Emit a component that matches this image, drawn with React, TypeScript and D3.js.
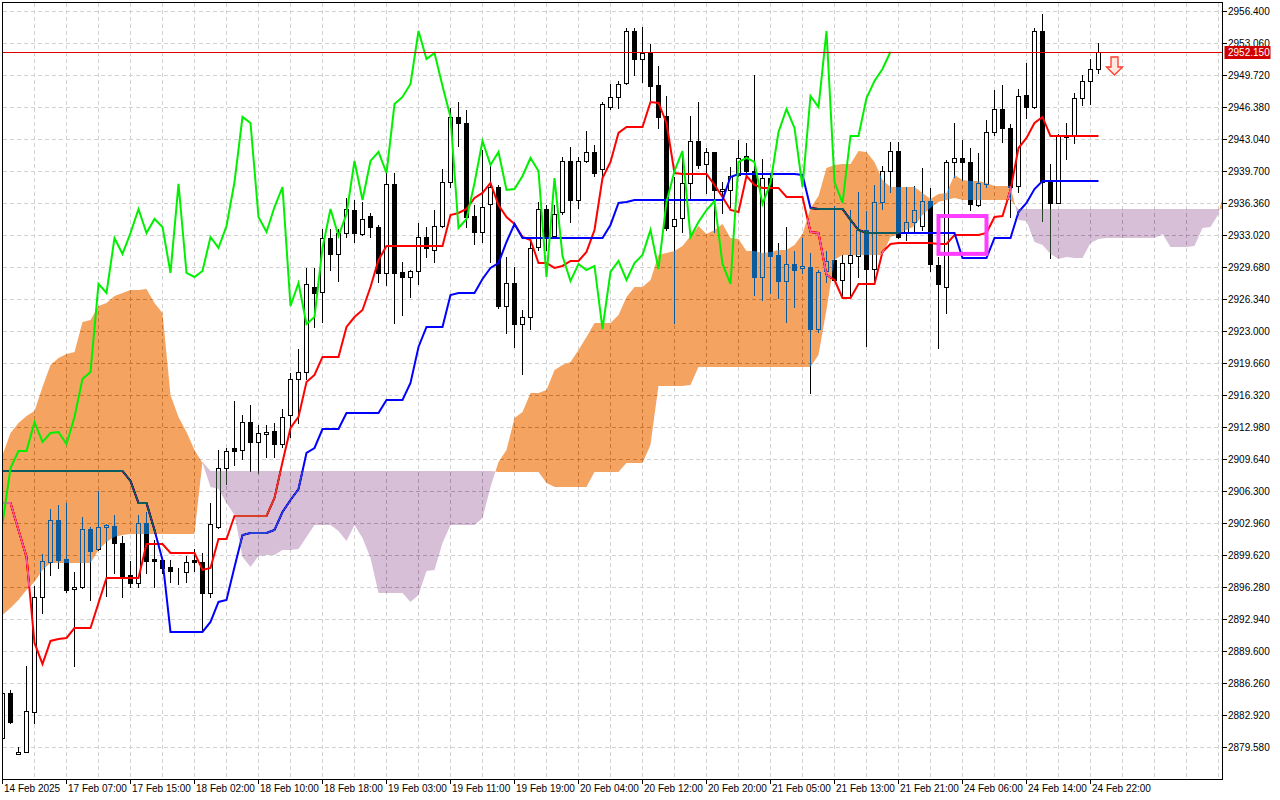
import { useEffect, useRef } from 'react'
import * as d3 from 'd3'

// XAUUSD H1, Ichimoku (9, 26, 52)
const opens = [
  2880.52, 2885.22, 2878.85, 2879.06, 2883.24, 2895.24, 2898.89, 2903.28, 2899.20, 2896.07,
  2896.28, 2902.33, 2900.25, 2902.54, 2902.65, 2900.87, 2897.53, 2896.70, 2902.96, 2899.20,
  2899.10, 2898.37, 2898.05, 2897.85, 2899.10, 2898.89, 2895.66, 2902.54, 2908.70, 2910.79,
  2910.58, 2913.50, 2911.42, 2912.25, 2912.56, 2911.21, 2914.23, 2917.99, 2918.72, 2927.59,
  2927.07, 2932.71, 2931.04, 2933.23, 2935.63, 2933.13, 2935.00, 2933.86, 2929.06, 2938.35,
  2929.16, 2928.64, 2929.26, 2932.81, 2931.46, 2933.96, 2938.55, 2945.34, 2944.71, 2935.00,
  2933.33, 2936.26, 2938.03, 2925.61, 2928.01, 2923.73, 2924.46, 2931.77, 2935.73, 2932.92,
  2935.42, 2940.75, 2936.68, 2940.75, 2941.69, 2939.91, 2946.38, 2947.43, 2948.89, 2954.31,
  2951.39, 2952.02, 2948.68, 2945.44, 2933.96, 2934.80, 2938.45, 2942.83, 2940.43, 2941.69,
  2937.61, 2937.72, 2939.28, 2941.27, 2939.70, 2928.64, 2938.97, 2930.93, 2928.22, 2930.00,
  2929.58, 2929.68, 2923.21, 2929.26, 2930.41, 2928.33, 2930.10, 2930.83, 2933.54, 2929.47,
  2936.47, 2939.70, 2941.79, 2933.23, 2934.38, 2933.96, 2936.57, 2929.89, 2927.59, 2940.64,
  2941.06, 2940.64, 2936.15, 2938.35, 2943.77, 2946.17, 2944.19, 2938.14, 2947.63, 2946.38,
  2954.31, 2938.55, 2936.36, 2943.25, 2943.36, 2947.32, 2949.10, 2950.35,
]
const highs = [
  2885.53, 2885.53, 2879.58, 2888.04, 2896.39, 2899.73, 2904.42, 2904.84, 2905.05, 2897.85,
  2903.59, 2902.54, 2906.30, 2902.86, 2903.80, 2901.60, 2899.00, 2903.80, 2904.11, 2901.19,
  2899.10, 2899.10, 2898.26, 2899.52, 2900.25, 2899.83, 2905.05, 2910.58, 2910.79, 2915.70,
  2914.23, 2915.28, 2913.19, 2913.19, 2913.40, 2914.86, 2918.62, 2921.12, 2929.58, 2929.58,
  2933.65, 2933.65, 2933.65, 2936.88, 2936.68, 2936.47, 2935.31, 2934.07, 2939.49, 2939.49,
  2930.20, 2929.37, 2934.27, 2933.86, 2935.63, 2939.91, 2946.28, 2946.90, 2946.07, 2936.15,
  2941.89, 2940.43, 2938.24, 2930.73, 2929.68, 2925.19, 2932.81, 2936.47, 2936.15, 2936.15,
  2941.16, 2942.21, 2941.16, 2943.88, 2942.41, 2946.90, 2948.78, 2949.09, 2954.63, 2954.63,
  2954.73, 2952.96, 2950.66, 2947.53, 2939.08, 2941.69, 2945.44, 2946.90, 2942.10, 2941.69,
  2938.55, 2940.12, 2942.94, 2942.62, 2949.72, 2940.95, 2939.49, 2932.19, 2933.86, 2931.35,
  2932.71, 2931.14, 2929.37, 2931.35, 2936.05, 2930.93, 2935.63, 2937.51, 2935.52, 2938.24,
  2940.22, 2942.73, 2942.73, 2938.03, 2938.14, 2940.02, 2937.93, 2930.73, 2940.85, 2944.71,
  2942.94, 2942.10, 2941.58, 2945.03, 2948.16, 2948.68, 2944.61, 2948.26, 2950.97, 2954.63,
  2956.09, 2940.43, 2943.56, 2944.71, 2947.84, 2949.72, 2951.39, 2953.06,
]
const lows = [
  2880.31, 2882.09, 2878.85, 2879.06, 2882.09, 2893.57, 2897.53, 2898.26, 2895.76, 2888.04,
  2896.18, 2894.93, 2900.14, 2895.34, 2897.74, 2895.24, 2896.28, 2896.28, 2897.74, 2896.28,
  2897.74, 2896.80, 2896.59, 2896.80, 2897.95, 2891.59, 2895.24, 2902.44, 2907.03, 2909.01,
  2909.64, 2908.39, 2908.18, 2909.85, 2909.85, 2910.89, 2911.94, 2913.40, 2917.99, 2923.42,
  2923.94, 2929.37, 2928.22, 2932.81, 2932.29, 2933.02, 2932.81, 2928.12, 2927.80, 2923.84,
  2924.67, 2926.55, 2927.91, 2930.73, 2930.20, 2933.86, 2938.03, 2942.31, 2933.86, 2932.08,
  2932.29, 2930.20, 2925.40, 2922.79, 2921.33, 2918.51, 2923.21, 2931.46, 2931.46, 2932.71,
  2935.21, 2934.38, 2935.84, 2940.64, 2939.18, 2939.08, 2946.17, 2946.28, 2948.78, 2949.72,
  2948.99, 2947.11, 2944.19, 2933.54, 2923.84, 2933.33, 2936.78, 2940.02, 2937.40, 2933.33,
  2935.31, 2935.94, 2939.18, 2939.49, 2926.76, 2926.24, 2926.97, 2926.45, 2923.94, 2925.51,
  2929.06, 2916.53, 2922.90, 2928.12, 2928.33, 2926.55, 2926.55, 2928.64, 2921.44, 2928.33,
  2935.73, 2937.51, 2932.71, 2932.50, 2933.23, 2933.54, 2929.26, 2921.23, 2924.88, 2939.08,
  2938.76, 2935.63, 2936.05, 2938.03, 2943.46, 2942.73, 2934.90, 2937.51, 2945.23, 2946.28,
  2934.48, 2930.62, 2936.36, 2940.95, 2942.62, 2946.59, 2946.69, 2949.93,
]
const closes = [
  2885.22, 2882.19, 2879.06, 2883.34, 2895.24, 2899.00, 2903.28, 2899.10, 2895.97, 2896.28,
  2902.33, 2900.04, 2902.54, 2902.75, 2900.87, 2897.43, 2896.70, 2902.96, 2899.00, 2899.00,
  2898.26, 2897.95, 2898.05, 2898.89, 2898.89, 2895.66, 2902.86, 2908.70, 2910.48, 2910.48,
  2913.50, 2911.42, 2912.35, 2912.46, 2911.21, 2914.02, 2917.99, 2918.72, 2927.91, 2926.97,
  2932.71, 2931.04, 2933.23, 2935.73, 2933.23, 2934.69, 2933.86, 2929.06, 2938.35, 2929.06,
  2928.64, 2929.26, 2932.81, 2931.67, 2933.96, 2938.55, 2945.34, 2944.71, 2934.90, 2933.33,
  2935.94, 2938.03, 2925.61, 2928.01, 2923.73, 2924.46, 2931.67, 2935.73, 2932.92, 2935.21,
  2940.75, 2936.68, 2940.75, 2941.69, 2939.49, 2946.69, 2947.43, 2948.78, 2954.31, 2951.39,
  2952.02, 2948.57, 2945.34, 2933.75, 2934.69, 2938.45, 2942.83, 2940.33, 2941.69, 2937.72,
  2937.82, 2939.18, 2941.06, 2939.70, 2928.64, 2938.97, 2930.83, 2928.22, 2930.00, 2929.37,
  2929.79, 2923.21, 2929.16, 2930.31, 2928.33, 2930.10, 2930.93, 2933.54, 2929.47, 2936.47,
  2939.70, 2941.79, 2932.81, 2934.38, 2935.63, 2936.57, 2930.00, 2927.91, 2940.64, 2941.06,
  2940.64, 2936.26, 2938.45, 2943.77, 2946.17, 2944.19, 2938.03, 2947.53, 2946.38, 2954.31,
  2938.55, 2936.36, 2943.36, 2943.36, 2947.32, 2949.10, 2950.35, 2952.15,
]

const tenkan = [
  2905.05, 2905.05, 2902.23, 2899.41, 2890.44, 2888.24, 2890.65, 2890.85, 2890.96, 2892.00,
  2892.00, 2892.00, 2894.61, 2897.22, 2897.22, 2897.22, 2897.22, 2897.22, 2900.77, 2900.77,
  2900.77, 2899.83, 2899.83, 2899.83, 2899.83, 2898.06, 2898.26, 2901.29, 2901.29, 2903.69,
  2903.69, 2903.69, 2903.69, 2903.69, 2905.57, 2909.33, 2912.88, 2914.03, 2917.68, 2918.41,
  2920.29, 2920.29, 2920.29, 2923.42, 2924.46, 2925.19, 2927.59, 2930.41, 2931.87, 2931.87,
  2931.87, 2931.87, 2931.87, 2931.87, 2931.87, 2931.87, 2935.11, 2935.32, 2935.74, 2936.88,
  2937.41, 2938.45, 2936.15, 2934.90, 2934.17, 2932.81, 2932.50, 2930.10, 2930.10, 2929.58,
  2929.79, 2930.31, 2930.31, 2931.25, 2933.54, 2938.97, 2940.64, 2943.67, 2944.29, 2944.29,
  2944.29, 2946.90, 2946.80, 2944.71, 2939.49, 2939.39, 2939.39, 2939.39, 2939.39, 2938.24,
  2936.99, 2935.63, 2935.42, 2939.18, 2938.24, 2937.93, 2937.93, 2937.93, 2936.99, 2936.99,
  2936.99, 2933.33, 2933.23, 2928.85, 2928.32, 2926.45, 2926.45, 2927.91, 2927.91, 2927.91,
  2931.25, 2932.08, 2932.19, 2932.19, 2932.19, 2932.19, 2932.19, 2932.08, 2932.08, 2933.02,
  2933.02, 2933.02, 2933.02, 2933.23, 2934.90, 2935.00, 2937.72, 2942.10, 2943.15, 2944.71,
  2945.34, 2943.35, 2943.35, 2943.35, 2943.35, 2943.35, 2943.35, 2943.35,
]
const kijun = [
  2908.39, 2908.39, 2908.39, 2908.39, 2908.39, 2908.39, 2908.39, 2908.39, 2908.39, 2908.39,
  2908.39, 2908.39, 2908.39, 2908.39, 2908.39, 2908.39, 2907.35, 2905.05, 2905.05, 2902.23,
  2899.10, 2891.59, 2891.59, 2891.59, 2891.59, 2891.59, 2892.63, 2894.72, 2894.93, 2898.37,
  2901.71, 2901.92, 2901.92, 2901.92, 2902.23, 2904.11, 2905.36, 2906.51, 2910.27, 2910.79,
  2912.77, 2912.77, 2912.77, 2914.44, 2914.44, 2914.44, 2914.44, 2914.44, 2915.80, 2915.80,
  2915.80, 2917.57, 2921.33, 2923.42, 2923.42, 2923.42, 2926.76, 2926.97, 2926.97, 2926.97,
  2928.43, 2929.58, 2930.10, 2932.29, 2934.17, 2932.71, 2932.71, 2932.71, 2932.71, 2932.71,
  2932.71, 2932.71, 2932.71, 2932.71, 2932.71, 2932.71, 2934.07, 2936.36, 2936.47, 2936.68,
  2936.68, 2936.68, 2936.68, 2936.68, 2936.68, 2936.68, 2936.68, 2936.68, 2936.68, 2936.68,
  2936.68, 2939.08, 2939.39, 2939.39, 2939.39, 2939.39, 2939.39, 2939.39, 2939.39, 2939.39,
  2939.28, 2935.84, 2935.74, 2935.74, 2935.74, 2935.74, 2934.59, 2933.54, 2933.23, 2933.23,
  2933.23, 2933.23, 2933.23, 2933.23, 2933.23, 2933.23, 2933.23, 2933.23, 2933.23, 2933.23,
  2930.62, 2930.62, 2930.62, 2930.62, 2932.71, 2932.71, 2932.71, 2935.42, 2936.36, 2937.82,
  2938.66, 2938.66, 2938.66, 2938.66, 2938.66, 2938.66, 2938.66, 2938.66,
]
// senkou spans, already shifted 26 bars forward (so they run past the last candle)
const spanA = [
  2910.06, 2912.36, 2913.40, 2914.13, 2914.65, 2917.16, 2919.45, 2920.18, 2920.60, 2920.81,
  2923.94, 2924.15, 2925.61, 2925.92, 2926.65, 2926.97, 2927.28, 2927.28, 2927.39, 2925.92,
  2924.88, 2916.32, 2914.03, 2912.46, 2910.58, 2909.22, 2906.72, 2906.51, 2905.05, 2903.80,
  2899.41, 2898.37, 2899.52, 2899.62, 2899.62, 2900.14, 2900.14, 2900.25, 2901.50, 2902.75,
  2902.75, 2902.75, 2902.13, 2901.08, 2902.75, 2901.40, 2899.31, 2895.66, 2895.66, 2895.66,
  2895.66, 2894.72, 2895.45, 2897.95, 2898.06, 2900.87, 2902.75, 2902.75, 2902.75, 2902.75,
  2903.48, 2906.72, 2909.33, 2910.58, 2913.92, 2914.55, 2916.53, 2916.53, 2916.84, 2918.93,
  2919.45, 2919.77, 2921.02, 2922.38, 2923.84, 2923.84, 2923.84, 2924.67, 2926.55, 2927.59,
  2927.59, 2928.32, 2930.93, 2931.14, 2931.35, 2931.87, 2932.92, 2933.96, 2933.13, 2933.54,
  2934.17, 2932.71, 2932.60, 2931.35, 2931.35, 2931.14, 2931.25, 2931.46, 2931.46, 2931.98,
  2933.13, 2935.84, 2937.09, 2940.01, 2940.33, 2940.43, 2940.43, 2941.79, 2941.68, 2940.64,
  2938.76, 2938.03, 2938.03, 2938.03, 2938.03, 2937.41, 2936.78, 2937.30, 2937.41, 2939.28,
  2938.76, 2938.66, 2938.66, 2938.45, 2938.14, 2938.14, 2938.14, 2934.59, 2934.48, 2932.29,
  2931.98, 2931.04, 2930.52, 2930.73, 2930.62, 2930.62, 2932.19, 2932.60, 2932.71, 2932.71,
  2932.71, 2932.71, 2932.71, 2932.71, 2932.71, 2933.13, 2931.77, 2931.77, 2931.77, 2931.87,
  2933.75, 2933.86, 2935.21, 2938.76,
]
const spanB = [
  2893.36, 2894.09, 2894.93, 2895.97, 2896.80, 2898.06, 2898.79, 2898.79, 2898.79, 2898.79,
  2898.79, 2898.79, 2900.14, 2900.98, 2901.50, 2901.71, 2901.81, 2901.81, 2901.81, 2901.81,
  2901.81, 2901.81, 2901.81, 2901.81, 2901.81, 2909.33, 2908.39, 2908.39, 2908.39, 2908.39,
  2908.39, 2908.39, 2908.39, 2908.39, 2908.39, 2908.39, 2908.39, 2908.39, 2908.39, 2908.39,
  2908.39, 2908.39, 2908.39, 2908.39, 2908.39, 2908.39, 2908.39, 2908.39, 2908.39, 2908.39,
  2908.39, 2908.39, 2908.39, 2908.39, 2908.39, 2908.39, 2908.39, 2908.39, 2908.39, 2908.39,
  2908.39, 2908.39, 2908.28, 2908.28, 2908.28, 2908.28, 2908.28, 2908.28, 2907.14, 2906.72,
  2906.72, 2906.72, 2906.72, 2906.72, 2908.28, 2908.28, 2908.28, 2908.28, 2909.22, 2909.22,
  2909.22, 2911.10, 2917.26, 2917.26, 2917.26, 2917.26, 2917.37, 2919.24, 2919.24, 2919.24,
  2919.24, 2919.24, 2919.24, 2919.24, 2919.24, 2919.24, 2919.24, 2919.24, 2919.24, 2919.24,
  2919.24, 2919.24, 2920.50, 2925.19, 2930.41, 2930.93, 2930.93, 2930.93, 2930.93, 2930.93,
  2930.93, 2932.81, 2933.13, 2933.54, 2933.96, 2935.11, 2935.84, 2936.47, 2936.68, 2936.88,
  2936.68, 2936.68, 2936.68, 2936.68, 2936.68, 2936.68, 2936.68, 2935.74, 2935.74, 2935.74,
  2935.74, 2935.74, 2935.74, 2935.74, 2935.74, 2935.74, 2935.74, 2935.74, 2935.74, 2935.74,
  2935.74, 2935.74, 2935.74, 2935.74, 2935.74, 2935.74, 2935.74, 2935.74, 2935.74, 2935.74,
  2935.74, 2935.74, 2935.74, 2935.74,
]

const priceTicks = [
  2956.4, 2953.06, 2949.72, 2946.38, 2943.04, 2939.7, 2936.36, 2933.02, 2929.68, 2926.34,
  2923.0, 2919.66, 2916.32, 2912.98, 2909.64, 2906.3, 2902.96, 2899.62, 2896.28, 2892.94,
  2889.6, 2886.26, 2882.92, 2879.58,
]
// one label every 8 bars
const timeLabels = [
  '14 Feb 2025', '17 Feb 07:00', '17 Feb 15:00', '18 Feb 02:00', '18 Feb 10:00', '18 Feb 18:00',
  '19 Feb 03:00', '19 Feb 11:00', '19 Feb 19:00', '20 Feb 04:00', '20 Feb 12:00', '20 Feb 20:00',
  '21 Feb 05:00', '21 Feb 13:00', '21 Feb 21:00', '24 Feb 06:00', '24 Feb 14:00', '24 Feb 22:00',
]
const bid = 2952.15
const box = { from: 117, to: 123, top: 2935.0, bottom: 2931.05 }
const arrow = { index: 139, price: 2951.6 }

const W = 1280
const H = 800
const L = 2.5, R = 1222.5, T = 2.5, B = 779
const FONT = '"Liberation Sans", Arial, sans-serif'

export default function App() {
  const svgRef = useRef<SVGSVGElement>(null)

  useEffect(() => {
    if (!svgRef.current) return
    const svg = d3.select(svgRef.current)
    svg.selectAll('*').remove()

    const x = d3.scaleLinear().domain([0, 1]).range([2.5, 10.5])
    const y = d3.scaleLinear().domain([2879.58, 2956.4]).range([747, 11])

    svg.append('rect').attr('width', W).attr('height', H).attr('fill', '#fff')

    const defs = svg.append('defs')
    defs.append('clipPath').attr('id', 'plot')
      .append('rect').attr('x', L).attr('y', T).attr('width', R - L).attr('height', B - T)
    const cloudIdx = d3.range(spanA.length)
    // above span B -> bullish cloud, below -> bearish cloud
    defs.append('clipPath').attr('id', 'upCloud')
      .append('path').attr('d', d3.area<number>().x(i => x(i)).y0(0).y1(i => y(spanB[i]))(cloudIdx))
    defs.append('clipPath').attr('id', 'downCloud')
      .append('path').attr('d', d3.area<number>().x(i => x(i)).y0(i => y(spanB[i])).y1(H)(cloudIdx))

    const plot = svg.append('g').attr('clip-path', 'url(#plot)')
    plot.append('rect').attr('x', 0).attr('y', 0).attr('width', W).attr('height', H).attr('fill', '#fff')

    // grid
    const grid = plot.append('g').attr('stroke', '#d2d2d2').attr('stroke-dasharray', '4,3').attr('shape-rendering', 'crispEdges')
    d3.range(4, 156, 4).forEach(i => {
      grid.append('line').attr('x1', x(i)).attr('x2', x(i)).attr('y1', T).attr('y2', B)
    })
    priceTicks.forEach(p => {
      const gy = Math.round(y(p)) + 0.5
      grid.append('line').attr('x1', L).attr('x2', R).attr('y1', gy).attr('y2', gy)
    })

    // candles
    const cg = plot.append('g').attr('shape-rendering', 'crispEdges')
    closes.forEach((c, i) => {
      const o = opens[i]
      const cx = x(i)
      cg.append('line').attr('x1', cx).attr('x2', cx)
        .attr('y1', Math.round(y(highs[i]))).attr('y2', Math.round(y(lows[i])) + 1)
        .attr('stroke', '#000')
      const top = Math.round(y(Math.max(o, c)))
      const bot = Math.round(y(Math.min(o, c)))
      cg.append('rect').attr('x', cx - 2).attr('y', top + 0.5)
        .attr('width', 4).attr('height', Math.max(bot - top, 0))
        .attr('fill', c >= o ? '#fff' : '#000').attr('stroke', '#000')
    })

    const line = d3.line<number>().x((_, i) => x(i)).y(d => y(d))
    plot.append('path').attr('d', line(tenkan)).attr('fill', 'none').attr('stroke', '#ff0000').attr('stroke-width', 2)
    plot.append('path').attr('d', line(kijun)).attr('fill', 'none').attr('stroke', '#0000ff').attr('stroke-width', 2)

    // kumo, drawn like the terminal does: inverted over whatever is below it
    const band = d3.area<number>().x(i => x(i)).y0(i => y(spanA[i])).y1(i => y(spanB[i]))
    plot.append('path').attr('d', band(cloudIdx)).attr('clip-path', 'url(#upCloud)')
      .attr('fill', 'rgb(11,91,159)').style('mix-blend-mode', 'difference')
    plot.append('path').attr('d', band(cloudIdx)).attr('clip-path', 'url(#downCloud)')
      .attr('fill', 'rgb(39,64,39)').style('mix-blend-mode', 'difference')

    // chikou: closes plotted 26 bars back
    plot.append('path').attr('d', line(closes.slice(26))).attr('fill', 'none').attr('stroke', '#00f000').attr('stroke-width', 2)

    // bid line
    const by = Math.round(y(bid)) + 0.5
    plot.append('line').attr('x1', L).attr('x2', R).attr('y1', by).attr('y2', by)
      .attr('stroke', '#e00000').attr('shape-rendering', 'crispEdges')

    // highlighted area
    plot.append('rect')
      .attr('x', x(box.from)).attr('y', y(box.top))
      .attr('width', x(box.to) - x(box.from)).attr('height', y(box.bottom) - y(box.top))
      .attr('fill', 'none').attr('stroke', '#ff3cff').attr('stroke-width', 4)

    // sell arrow
    const ax = x(arrow.index)
    const ay = y(arrow.price)
    const pts: [number, number][] = [
      [ax - 3.5, ay], [ax + 3.5, ay], [ax + 3.5, ay + 10], [ax + 8, ay + 10],
      [ax, ay + 18], [ax - 8, ay + 10], [ax - 3.5, ay + 10],
    ]
    plot.append('path').attr('d', 'M' + pts.map(p => p.join(',')).join('L') + 'Z')
      .attr('fill', '#ffe8e0').attr('stroke', '#ff3a2a').attr('stroke-width', 1.3)

    // frame
    svg.append('rect').attr('x', L).attr('y', T).attr('width', R - L).attr('height', B - T)
      .attr('fill', 'none').attr('stroke', '#000').attr('shape-rendering', 'crispEdges')

    // price axis
    const ya = svg.append('g').attr('font-family', FONT).attr('font-size', 10).attr('fill', '#000')
    priceTicks.forEach(p => {
      const gy = Math.round(y(p)) + 0.5
      ya.append('line').attr('x1', R).attr('x2', R + 4).attr('y1', gy).attr('y2', gy)
        .attr('stroke', '#000').attr('shape-rendering', 'crispEdges')
      ya.append('text').attr('x', R + 5.5).attr('y', gy + 3.8).text(p.toFixed(3))
    })
    svg.append('rect').attr('x', R + 2).attr('y', by - 6.5).attr('width', 46).attr('height', 13).attr('fill', '#d00000')
    svg.append('text').attr('x', R + 5.5).attr('y', by + 3.8).attr('font-family', FONT).attr('font-size', 10)
      .attr('fill', '#fff').text(bid.toFixed(3))

    // time axis
    const xa = svg.append('g').attr('font-family', FONT).attr('font-size', 10).attr('fill', '#000')
    timeLabels.forEach((t, k) => {
      const tx = x(k * 8)
      xa.append('line').attr('x1', tx).attr('x2', tx).attr('y1', B).attr('y2', B + 5)
        .attr('stroke', '#000').attr('shape-rendering', 'crispEdges')
      xa.append('text').attr('x', tx + 1.5).attr('y', B + 13).text(t)
    })
  }, [])

  return (
    <svg
      ref={svgRef}
      width={W}
      height={H}
      style={{ position: 'absolute', left: 0, top: 0, display: 'block' }}
    />
  )
}
